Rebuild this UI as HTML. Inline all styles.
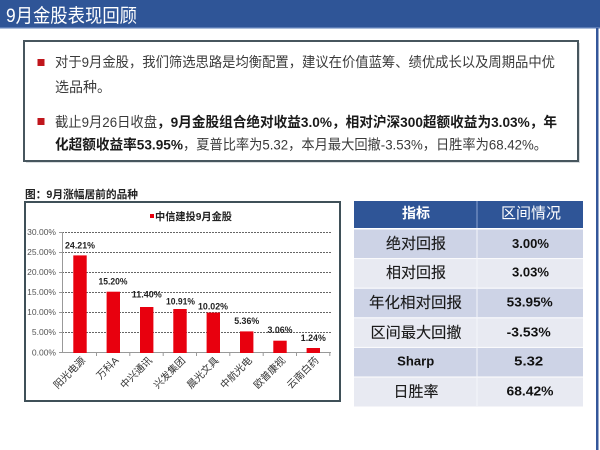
<!DOCTYPE html>
<html>
<head>
<meta charset="utf-8">
<style>
  html,body{margin:0;padding:0;background:#fff;}
  svg{display:block;}
  .cjk{font-family:"Liberation Sans","Noto Sans CJK SC",sans-serif;}
</style>
</head>
<body>
<svg width="600" height="450" viewBox="0 0 600 450" xmlns="http://www.w3.org/2000/svg" class="cjk">
  <!-- header bar -->
  <rect x="0" y="0" width="600" height="28" fill="#2f5597"/>
  <rect x="0" y="27" width="600" height="1.5" fill="#5a7bb5"/>
  <text x="6" y="22" font-size="19" fill="#ffffff" textLength="131" lengthAdjust="spacingAndGlyphs">9月金股表现回顾</text>
  <!-- right vertical line -->
  <rect x="596" y="28" width="2.5" height="422" fill="#34579a"/>

  <!-- text box -->
  <rect x="26" y="43" width="554" height="120" fill="#d8dcdf"/>
  <rect x="24" y="41" width="554" height="120" fill="#ffffff" stroke="#47565e" stroke-width="2"/>
  <rect x="37.5" y="59" width="7" height="7" fill="#c0161c"/>
  <text x="55" y="67" font-size="14" fill="#3a3a3a" textLength="500" lengthAdjust="spacingAndGlyphs">对于9月金股，我们筛选思路是均衡配置，建议在价值蓝筹、绩优成长以及周期品中优</text>
  <text x="55" y="92" font-size="14" fill="#3a3a3a" textLength="56" lengthAdjust="spacingAndGlyphs">选品种。</text>
  <rect x="37.5" y="118" width="7" height="7" fill="#c0161c"/>
  <text x="55" y="127" font-size="14" fill="#3a3a3a" textLength="102" lengthAdjust="spacingAndGlyphs">截止9月26日收盘</text>
  <text x="157" y="127" font-size="14" font-weight="bold" fill="#1a1a1a" textLength="400" lengthAdjust="spacingAndGlyphs">，9月金股组合绝对收益3.0%，相对沪深300超额收益为3.03%，年</text>
  <text x="55" y="149.5" font-size="14" font-weight="bold" fill="#1a1a1a" textLength="128" lengthAdjust="spacingAndGlyphs">化超额收益率53.95%</text>
  <text x="183" y="149.5" font-size="14" fill="#3a3a3a" textLength="364" lengthAdjust="spacingAndGlyphs">，夏普比率为5.32，本月最大回撤-3.53%，日胜率为68.42%。</text>

  <!-- chart title -->
  <text x="25" y="198" font-size="11" font-weight="bold" fill="#222" textLength="113" lengthAdjust="spacingAndGlyphs">图：9月涨幅居前的品种</text>

  <!-- chart box -->
  <rect x="25" y="202" width="315" height="199" fill="#ffffff" stroke="#3f5058" stroke-width="2"/>

  <!-- legend -->
  <rect x="150" y="214" width="4" height="4" fill="#e8000e"/>
  <text x="155" y="220" font-size="10.5" font-weight="bold" fill="#222" textLength="77" lengthAdjust="spacingAndGlyphs">中信建投9月金股</text>

  <!-- gridlines -->
  <g stroke="#666" stroke-width="1" stroke-dasharray="2,1">
    <line x1="62" y1="232.5" x2="331" y2="232.5"/>
    <line x1="62" y1="252.5" x2="331" y2="252.5"/>
    <line x1="62" y1="272.5" x2="331" y2="272.5"/>
    <line x1="62" y1="292.5" x2="331" y2="292.5"/>
    <line x1="62" y1="312.5" x2="331" y2="312.5"/>
    <line x1="62" y1="332.5" x2="331" y2="332.5"/>
  </g>
  <!-- axes -->
  <g stroke="#999" stroke-width="1">
    <line x1="62.5" y1="232" x2="62.5" y2="353"/>
    <line x1="62" y1="352.5" x2="331" y2="352.5"/>
    <line x1="59" y1="232.5" x2="62" y2="232.5"/>
    <line x1="59" y1="252.5" x2="62" y2="252.5"/>
    <line x1="59" y1="272.5" x2="62" y2="272.5"/>
    <line x1="59" y1="292.5" x2="62" y2="292.5"/>
    <line x1="59" y1="312.5" x2="62" y2="312.5"/>
    <line x1="59" y1="332.5" x2="62" y2="332.5"/>
    <line x1="59" y1="352.5" x2="62" y2="352.5"/>
    <line x1="96.5" y1="353" x2="96.5" y2="356"/>
    <line x1="129.8" y1="353" x2="129.8" y2="356"/>
    <line x1="163.2" y1="353" x2="163.2" y2="356"/>
    <line x1="196.5" y1="353" x2="196.5" y2="356"/>
    <line x1="229.8" y1="353" x2="229.8" y2="356"/>
    <line x1="263.2" y1="353" x2="263.2" y2="356"/>
    <line x1="296.5" y1="353" x2="296.5" y2="356"/>
    <line x1="329.8" y1="353" x2="329.8" y2="356"/>
  </g>
  <!-- y labels -->
  <g font-family="Liberation Sans, sans-serif" font-size="8.5" fill="#555" text-anchor="end">
    <text x="56" y="235">30.00%</text>
    <text x="56" y="255">25.00%</text>
    <text x="56" y="275">20.00%</text>
    <text x="56" y="295">15.00%</text>
    <text x="56" y="315">10.00%</text>
    <text x="56" y="335">5.00%</text>
    <text x="56" y="355.5">0.00%</text>
  </g>

  <!-- bars -->
  <g fill="#e8000e">
    <rect x="73.3" y="255.4" width="13.4" height="97.6"/>
    <rect x="106.6" y="291.7" width="13.4" height="61.3"/>
    <rect x="140.0" y="307.0" width="13.4" height="46.0"/>
    <rect x="173.3" y="309.0" width="13.4" height="44.0"/>
    <rect x="206.6" y="312.6" width="13.4" height="40.4"/>
    <rect x="240.0" y="331.4" width="13.4" height="21.6"/>
    <rect x="273.3" y="340.7" width="13.4" height="12.3"/>
    <rect x="306.6" y="348.0" width="13.4" height="5.0"/>
  </g>

  <!-- value labels -->
  <g font-family="Liberation Sans, sans-serif" font-size="9.5" font-weight="bold" fill="#222" text-anchor="middle">
    <text x="80" y="248.5" textLength="30" lengthAdjust="spacingAndGlyphs">24.21%</text>
    <text x="113" y="284.5" textLength="29" lengthAdjust="spacingAndGlyphs">15.20%</text>
    <text x="146.7" y="297.5" textLength="30" lengthAdjust="spacingAndGlyphs">11.40%</text>
    <text x="180.5" y="304.5" textLength="29" lengthAdjust="spacingAndGlyphs">10.91%</text>
    <text x="213" y="309.5" textLength="30" lengthAdjust="spacingAndGlyphs">10.02%</text>
    <text x="246.7" y="324.2" textLength="25" lengthAdjust="spacingAndGlyphs">5.36%</text>
    <text x="280" y="332.8" textLength="25" lengthAdjust="spacingAndGlyphs">3.06%</text>
    <text x="313.3" y="340.8" textLength="25" lengthAdjust="spacingAndGlyphs">1.24%</text>
  </g>

  <!-- x labels -->
  <g font-size="10" fill="#333" text-anchor="end">
    <text transform="translate(86,361) rotate(-45)">阳光电源</text>
    <text transform="translate(119.3,361) rotate(-45)">万科A</text>
    <text transform="translate(152.7,361) rotate(-45)">中兴通讯</text>
    <text transform="translate(186,361) rotate(-45)">兴发集团</text>
    <text transform="translate(219.3,361) rotate(-45)">晨光文具</text>
    <text transform="translate(252.7,361) rotate(-45)">中航光电</text>
    <text transform="translate(286,361) rotate(-45)">欧普康视</text>
    <text transform="translate(319.3,361) rotate(-45)">云南白药</text>
  </g>

  <!-- table -->
  <rect x="354" y="201" width="229" height="27" fill="#2f5597"/>
  <rect x="354" y="229.5" width="229" height="28.6" fill="#cdd3e6"/>
  <rect x="354" y="259.1" width="229" height="28.6" fill="#e8eaf2"/>
  <rect x="354" y="288.7" width="229" height="28.6" fill="#cdd3e6"/>
  <rect x="354" y="318.3" width="229" height="28.6" fill="#e8eaf2"/>
  <rect x="354" y="347.9" width="229" height="28.6" fill="#cdd3e6"/>
  <rect x="354" y="377.5" width="229" height="29" fill="#e8eaf2"/>
  <line x1="477" y1="201" x2="477" y2="228" stroke="#7c97c8" stroke-width="1.2"/>
  <line x1="477" y1="229" x2="477" y2="406" stroke="#f4f5fa" stroke-width="1"/>

  <text x="416" y="218" font-size="14" font-weight="bold" fill="#ffffff" text-anchor="middle" textLength="28" lengthAdjust="spacingAndGlyphs">指标</text>
  <text x="531" y="218" font-size="15" fill="#ffffff" text-anchor="middle" textLength="60" lengthAdjust="spacingAndGlyphs">区间情况</text>

  <g font-size="15" fill="#1a1a1a" stroke="#1a1a1a" stroke-width="0.12" text-anchor="middle">
    <text x="416" y="248.5" textLength="60" lengthAdjust="spacingAndGlyphs">绝对回报</text>
    <text x="416" y="277.5" textLength="60" lengthAdjust="spacingAndGlyphs">相对回报</text>
    <text x="415.5" y="307.5" textLength="93" lengthAdjust="spacingAndGlyphs">年化相对回报</text>
    <text x="416" y="337.5" textLength="91" lengthAdjust="spacingAndGlyphs">区间最大回撤</text>
    <text x="416" y="396.5" textLength="45" lengthAdjust="spacingAndGlyphs">日胜率</text>
  </g>
  <g font-family="Liberation Sans, sans-serif" font-size="13" font-weight="bold" fill="#111" text-anchor="middle">
    <text x="415.7" y="365.5" textLength="37" lengthAdjust="spacingAndGlyphs">Sharp</text>
    <text x="530.5" y="247.8" textLength="37" lengthAdjust="spacingAndGlyphs">3.00%</text>
    <text x="530.5" y="276.5" textLength="37" lengthAdjust="spacingAndGlyphs">3.03%</text>
    <text x="529.7" y="306.5" textLength="46" lengthAdjust="spacingAndGlyphs">53.95%</text>
    <text x="528.7" y="336.5" textLength="44" lengthAdjust="spacingAndGlyphs">-3.53%</text>
    <text x="528.7" y="365.5" textLength="29" lengthAdjust="spacingAndGlyphs">5.32</text>
    <text x="530" y="395.5" textLength="47" lengthAdjust="spacingAndGlyphs">68.42%</text>
  </g>
</svg>
</body>
</html>
